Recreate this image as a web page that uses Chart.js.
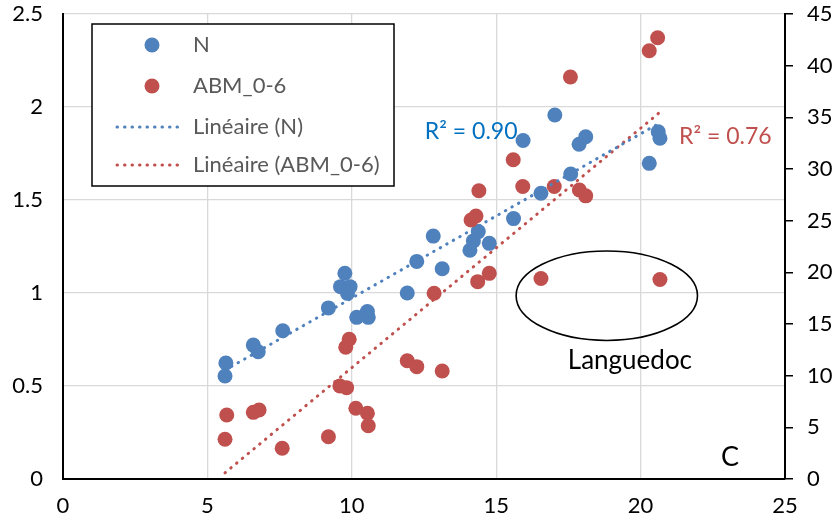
<!DOCTYPE html>
<html>
<head>
<meta charset="utf-8">
<title>N / ABM_0-6</title>
<script src="https://cdn.jsdelivr.net/npm/chart.js@4.4.1/dist/chart.umd.min.js"></script>
<style>
    html, body { margin: 0; padding: 0; background: #fff; }
    #chart { display: block; }
</style>
</head>
<body>
<canvas id="chart" width="833" height="525"></canvas>
<script>
// site values: temperature (x), N (left axis), ABM_0-6 (right axis)
const nX = [5.61, 5.64, 6.59, 6.76, 7.61, 9.19, 9.61, 9.76, 9.85, 9.94, 10.17, 10.54, 10.57, 11.92, 12.25, 12.82,
    13.13, 14.09, 14.21, 14.38, 14.76, 15.60, 15.93, 16.55, 17.03, 17.58, 17.87, 18.10, 20.30, 20.61, 20.67];
const nY = [0.554, 0.624, 0.72, 0.684, 0.797, 0.92, 1.034, 1.106, 0.998, 1.034, 0.869, 0.90, 0.869, 1.00, 1.17, 1.306,
    1.13, 1.23, 1.28, 1.33, 1.267, 1.40, 1.82, 1.536, 1.957, 1.64, 1.80, 1.84, 1.697, 1.867, 1.832];

const abmX = [5.61, 5.67, 6.59, 6.79, 7.59, 9.19, 9.59, 9.79, 9.82, 9.91, 10.14, 10.54, 10.57, 11.92, 12.25, 12.85,
    13.13, 14.13, 14.30, 14.36, 14.40, 14.76, 15.59, 15.92, 16.55, 17.01, 17.57, 17.88, 18.10, 20.30, 20.59, 20.67];
const abmY = [3.84, 6.19, 6.45, 6.68, 2.97, 4.09, 9.0, 12.75, 8.84, 13.52, 6.84, 6.36, 5.16, 11.45, 10.87, 17.97,
    10.45, 25.07, 25.45, 19.1, 27.9, 19.9, 30.9, 28.3, 19.4, 28.3, 38.9, 27.97, 27.4, 41.45, 42.7, 19.3];

// linear trend end points
const trendNX = [5.61, 20.67];
const trendNY = [0.585, 1.915];
const trendAbmX = [5.61, 20.67];
const trendAbmY = [0.6, 35.5];

const r2N = 'R² = 0.90';
const r2Abm = 'R² = 0.76';

const legendLabels = ['N', 'ABM_0-6', 'Linéaire (N)', 'Linéaire (ABM_0-6)'];

const BLUE = '#4F81BD';
const RED = '#C0504D';
const FONT = 'Lato, "Open Sans", sans-serif';

function toPoints(xs, ys) {
    return xs.map((x, i) => ({ x: x, y: ys[i] }));
}

// fixed axis sizes, no extra room for the end labels
function fixWidth(w) {
    return s => {
        s.width = w;
        s.paddingTop = 0;
        s.paddingBottom = 0;
    };
}

function dotted(ctx, x1, y1, x2, y2, color) {
    ctx.save();
    ctx.strokeStyle = color;
    ctx.lineWidth = 3;
    ctx.lineCap = 'round';
    ctx.setLineDash([0.5, 7]);
    ctx.beginPath();
    ctx.moveTo(x1, y1);
    ctx.lineTo(x2, y2);
    ctx.stroke();
    ctx.restore();
}

// legend box, R² labels, ellipse and text notes
const notesPlugin = {
    id: 'notes',
    afterDatasetsDraw(chart) {
        const ctx = chart.ctx;
        const sx = chart.scales.x;
        const sy = chart.scales.y;
        const sy1 = chart.scales.y1;

        ctx.save();
        ctx.textBaseline = 'middle';

        // R² labels
        ctx.font = '23px ' + FONT;
        ctx.fillStyle = '#0070C0';
        ctx.fillText(r2N, sx.getPixelForValue(12.53), sy.getPixelForValue(1.866));
        ctx.fillStyle = RED;
        ctx.fillText(r2Abm, sx.getPixelForValue(21.33), sy1.getPixelForValue(33.1));

        // Languedoc group
        const cx = sx.getPixelForValue(18.83);
        const cy = sy1.getPixelForValue(17.74);
        const rx = sx.getPixelForValue(18.83 + 3.14) - cx;
        const ry = cy - sy1.getPixelForValue(17.74 + 4.33);
        ctx.strokeStyle = '#000';
        ctx.lineWidth = 1.6;
        ctx.beginPath();
        ctx.ellipse(cx, cy, rx, ry, 0, 0, Math.PI * 2);
        ctx.stroke();

        ctx.fillStyle = '#000';
        ctx.textAlign = 'center';
        ctx.font = '26px ' + FONT;
        ctx.fillText('Languedoc', sx.getPixelForValue(19.63), sy1.getPixelForValue(11.5));
        ctx.font = '27px ' + FONT;
        ctx.fillText('C', sx.getPixelForValue(23.1), sy1.getPixelForValue(2.13));

        // legend
        const lx = 92, ly = 24, lw = 302, lh = 162;
        ctx.fillStyle = '#fff';
        ctx.fillRect(lx, ly, lw, lh);
        ctx.strokeStyle = '#000';
        ctx.lineWidth = 1.5;
        ctx.strokeRect(lx, ly, lw, lh);

        const rows = [45, 86, 127, 165];
        ctx.fillStyle = BLUE;
        ctx.beginPath();
        ctx.arc(152, rows[0], 7.5, 0, Math.PI * 2);
        ctx.fill();
        ctx.fillStyle = RED;
        ctx.beginPath();
        ctx.arc(152, rows[1], 7.5, 0, Math.PI * 2);
        ctx.fill();
        dotted(ctx, 117, rows[2], 178, rows[2], BLUE);
        dotted(ctx, 117, rows[3], 178, rows[3], RED);

        ctx.textAlign = 'left';
        ctx.font = '22px ' + FONT;
        ctx.fillStyle = '#595959';
        legendLabels.forEach((label, i) => ctx.fillText(label, 193, rows[i]));
        ctx.restore();
    }
};

const ctx = document.getElementById('chart').getContext('2d');
new Chart(ctx, {
    type: 'scatter',
    data: {
        datasets: [
            {
                type: 'line',
                label: 'Linéaire (N)',
                data: toPoints(trendNX, trendNY),
                borderColor: BLUE,
                borderWidth: 3,
                borderDash: [0.5, 7],
                borderCapStyle: 'round',
                pointRadius: 0,
                fill: false,
                yAxisID: 'y',
                order: 0
            },
            {
                type: 'line',
                label: 'Linéaire (ABM_0-6)',
                data: toPoints(trendAbmX, trendAbmY),
                borderColor: RED,
                borderWidth: 3,
                borderDash: [0.5, 7],
                borderCapStyle: 'round',
                pointRadius: 0,
                fill: false,
                yAxisID: 'y1',
                order: 0
            },
            {
                label: 'ABM_0-6',
                data: toPoints(abmX, abmY),
                backgroundColor: RED,
                borderWidth: 0,
                pointRadius: 7.5,
                yAxisID: 'y1',
                order: 1
            },
            {
                label: 'N',
                data: toPoints(nX, nY),
                backgroundColor: BLUE,
                borderWidth: 0,
                pointRadius: 7.5,
                yAxisID: 'y',
                order: 2
            }
        ]
    },
    options: {
        responsive: false,
        animation: false,
        layout: { autoPadding: false, padding: { top: 14, left: 0, right: 0, bottom: 0 } },
        plugins: {
            legend: { display: false },
            tooltip: { enabled: false }
        },
        scales: {
            x: {
                type: 'linear',
                min: 0,
                max: 25,
                ticks: {
                    stepSize: 5,
                    color: '#000',
                    padding: 14,
                    font: { family: FONT, size: 22 }
                },
                grid: { color: '#D9D9D9', lineWidth: 1.3, drawTicks: false },
                border: { color: '#000', width: 2 },
                afterFit: s => {
                    s.height = 46;
                    s.paddingLeft = 0;
                    s.paddingRight = 0;
                }
            },
            y: {
                type: 'linear',
                position: 'left',
                min: 0,
                max: 2.5,
                ticks: {
                    stepSize: 0.5,
                    color: '#000',
                    padding: 20,
                    font: { family: FONT, size: 22 },
                    callback: v => String(v)
                },
                grid: { color: '#D9D9D9', lineWidth: 1.3, drawTicks: false },
                border: { color: '#000', width: 2 },
                afterFit: fixWidth(63)
            },
            y1: {
                type: 'linear',
                position: 'right',
                min: 0,
                max: 45,
                ticks: {
                    stepSize: 5,
                    color: '#000',
                    padding: 14,
                    font: { family: FONT, size: 22 }
                },
                grid: { drawOnChartArea: false, color: '#000', lineWidth: 1.5, tickLength: 8 },
                border: { color: '#000', width: 2 },
                afterFit: fixWidth(48)
            }
        }
    },
    plugins: [notesPlugin]
});
</script>
</body>
</html>
